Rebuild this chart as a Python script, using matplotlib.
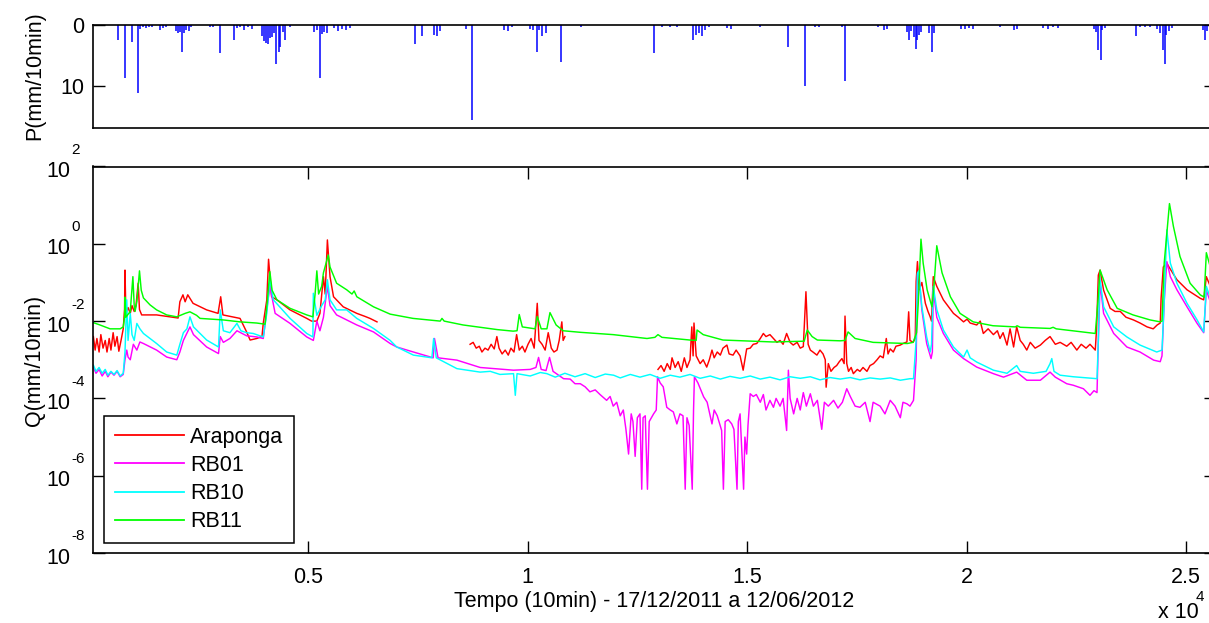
import numpy as np
import matplotlib
matplotlib.use('Agg')
from matplotlib import pyplot as plt
from matplotlib.ticker import NullLocator
from matplotlib.transforms import offset_copy

plt.rcParams['font.family'] = ['Liberation Sans', 'DejaVu Sans']
plt.rcParams['font.size'] = 15.5

# time axis in 10-min steps, discharge kept as log10(Q)
araponga_t = [
    110, 150, 190, 240, 280, 330, 380, 420, 470, 510,
    560, 600, 650, 690, 740, 790, 820, 830, 850, 900,
    950, 990, 1040, 1080, 1130, 1160, 1210, 1550, 1920, 2040,
    2080, 2150, 2200, 2260, 2380, 2690, 2950, 3010, 3060, 3450,
    3600, 3680, 3830, 3950, 3980, 4060, 4100, 4170, 4290, 4590,
    4970, 5080, 5200, 5270, 5350, 5390, 5440, 5500, 5580, 5800,
    6110, 6300, 6410, 6570, np.nan,
    8690, 8760, 8830, 8900, 8960, 9030, 9100, 9170, 9240, 9300,
    9350, 9420, 9490, 9560, 9620, 9690, 9750, 9810, 9880, 9940,
    10010, 10080, 10150, 10220, 10260, 10330, 10400, 10470, 10540, 10600,
    10670, 10720, 10780, 10810, 10850, np.nan,
    12970, 13040, 13110, 13180, 13250, 13290, 13360, 13430, 13500, 13570,
    13630, 13700, 13740, 13770, 13790, 13840, 13930, 14000, 14080, 14140,
    14200, 14250, 14320, 14390, 14450, 14540, 14590, 14680, 14750, 14840,
    14910, 14990, 15070, 15140, 15220, 15300, 15370, 15430, 15520, 15600,
    15680, 15750, 15820, 15900, 15980, 16050, 16140, 16210, 16280, 16340,
    16390, 16440, 16500, 16590, 16660, 16730, 16780, 16800, 16850, 16910,
    16980, 17040, 17100, 17160, 17210, 17230, 17270, 17310, 17370, 17420,
    17510, 17570, 17640, 17730, 17800, 17880, 17960, 18030, 18100, 18170,
    18210, 18260, 18330, 18390, 18490, 18550, 18640, 18680, 18710, 18780,
    18830, 18850, 18880, 18920, 18980, 19060, 19120, 19170, 19200, 19240,
    19320, 19470, 19700, 19810, 19930, 20010, 20080, 20230, 20310, 20380,
    20490, 20610, 20700, 20760, 20830, 20920, 20990, 21070, 21140, 21220,
    21290, 21370, 21450, 21560, 21680, 21790, 21900, 22020, 22130, 22280,
    22380, 22510, 22610, 22720, 22810, 22930, 22960, 23000, 23040, 23120,
    23270, 23380, 23500, 23630, 23800, 23950, 24110, 24250, 24340, 24410,
    24430, 24480, 24560, 24620, 24790, 25020, 25320, 25400, 25460, 25550]
araponga_log = [
    -2.4, -2.75, -2.45, -2.8, -2.35, -2.7, -2.5, -2.8, -2.45, -2.75,
    -2.3, -2.65, -2.4, -2.78, -2.5, -2.2, -1.7, -0.68, -1.8, -1.65,
    -1.8, -1.6, -1.75, -1.6, -1.02, -1.7, -1.84, -1.84, -1.90, -1.92,
    -1.5, -1.32, -1.5, -1.32, -1.54, -1.71, -1.80, -1.37, -1.84, -1.93,
    -2.28, -2.49, -2.45, -2.40, -2.05, -1.45, -0.40, -1.37, -1.45, -1.71,
    -1.93, -2.0, -2.0, -1.8, -0.85, -1.3, 0.10, -0.85, -1.37, -1.63,
    -1.80, -1.88, -1.93, -2.02, np.nan,
    -2.6, -2.55, -2.7, -2.65, -2.8, -2.7, -2.75, -2.6, -2.72, -2.4,
    -2.7, -2.85, -2.75, -2.88, -2.7, -2.8, -2.35, -2.75, -2.65, -2.8,
    -2.6, -2.45, -2.7, -1.54, -2.5, -2.6, -2.75, -2.3, -2.7, -2.8,
    -2.75, -2.5, -2.02, -2.5, -2.4, np.nan,
    -3.25, -3.15, -3.3, -3.1, -3.25, -2.95, -3.2, -3.05, -3.3, -2.95,
    -3.2, -3.0, -2.15, -2.9, -2.05, -2.9, -3.1, -3.0, -3.19, -3.0,
    -2.75, -2.95, -2.8, -2.88, -2.7, -2.62, -2.85, -2.88, -2.75, -2.9,
    -3.27, -2.72, -2.7, -2.6, -2.58, -2.45, -2.32, -2.4, -2.35, -2.45,
    -2.55, -2.5, -2.6, -2.32, -2.55, -2.62, -2.55, -2.7, -2.66, -1.24,
    -2.6, -2.75, -2.8, -2.88, -2.75, -2.85, -3.0, -3.71, -3.1, -3.3,
    -3.2, -3.15, -3.05, -2.97, -3.1, -1.87, -3.1, -3.3, -3.2, -3.36,
    -3.25, -3.3, -3.2, -3.3, -3.15, -3.1, -3.0, -2.9, -2.95, -2.45,
    -2.85, -2.72, -2.8, -2.65, -2.62, -2.58, -2.54, -1.76, -2.5, -2.55,
    -2.45, -0.98, -0.46, -1.19, -1.0, -1.54, -1.75, -1.89, -2.0, -0.85,
    -1.1, -1.45, -1.8, -1.9, -2.02, -1.95, -2.05, -2.1, -2.0, -2.32,
    -2.2, -2.35, -2.25, -2.45, -2.3, -2.62, -2.2, -2.67, -2.15, -2.5,
    -2.6, -2.75, -2.55, -2.7, -2.62, -2.5, -2.4, -2.6, -2.55, -2.65,
    -2.55, -2.75, -2.6, -2.7, -2.6, -2.75, -2.2, -0.81, -0.68, -1.2,
    -1.67, -1.75, -1.75, -1.9, -1.97, -2.05, -2.15, -2.2, -2.1, -2.05,
    -1.4, -0.6, -0.5, -0.62, -0.93, -1.19, -1.41, -1.45, -0.85, -1.1]

rb01_t = [
    110, 170, 240, 310, 380, 440, 510, 580, 650, 720,
    790, 830, 870, 900, 950, 1020, 1100, 1170, 1250, 1550,
    1780, 2010, 2080, 2160, 2310, 2390, 2690, 2960, 3000, 3070,
    3220, 3380, 3600, 3830, 3980, 4060, 4130, 4250, 4590, 4970,
    5120, 5200, 5270, 5350, 5440, 5500, 5650, 6110, 6490, 6870,
    7020, 7400, 7850, 7880, 7960, 8390, 8920, 9680, 10060, 10190,
    10250, 10310, 10420, 10500, 10580, 10820, 10970, 11080, 11200, 11310,
    11420, 11540, 11650, 11800, 11880, 11950, 12030, 12110, 12180, 12240,
    12300, 12360, 12400, 12450, 12500, 12560, 12600, 12630, 12680, 12730,
    12770, 12870, 12930, 12960, 13020, 13090, 13170, 13250, 13320, 13400,
    13470, 13540, 13590, 13630, 13680, 13750, 13780, 13800, 13880, 14010,
    14090, 14200, 14250, 14320, 14420, 14460, 14500, 14570, 14650, 14700,
    14770, 14800, 14840, 14920, 14950, 14990, 15020, 15070, 15140, 15210,
    15300, 15370, 15430, 15520, 15600, 15660, 15750, 15820, 15900, 15940,
    15980, 16060, 16140, 16210, 16280, 16350, 16440, 16510, 16600, 16700,
    16760, 16850, 16970, 17070, 17170, 17270, 17350, 17460, 17570, 17690,
    17800, 17870, 18030, 18140, 18260, 18370, 18490, 18550, 18640, 18710,
    18790, 18850, 18880, 18910, 18980, 19090, 19190, 19220, 19240, 19320,
    19470, 19700, 19930, 20230, 20610, 20840, 21140, 21370, 21680, 21900,
    22020, 22280, 22430, 22660, 22810, 22900, 22970, 23000, 23040, 23120,
    23350, 23650, 23950, 24260, 24410, 24450, 24500, 24560, 24640, 24790,
    25020, 25250, 25400, 25460, 25550]
rb01_log = [
    -3.19, -3.35, -3.25, -3.42, -3.3, -3.44, -3.32, -3.4, -3.3, -3.44,
    -3.38, -3.0, -2.75, -2.93, -3.0, -2.6, -2.75, -2.54, -2.58, -2.75,
    -2.93, -3.00, -2.8, -2.5, -2.15, -2.35, -2.67, -2.84, -2.4, -2.55,
    -2.45, -2.25, -2.38, -2.41, -2.45, -1.7, -1.10, -1.8, -2.06, -2.41,
    -2.5, -2.0, -2.25, -1.9, -1.10, -1.6, -1.84, -2.10, -2.28, -2.58,
    -2.67, -2.80, -2.95, -2.45, -2.95, -3.01, -3.20, -3.27, -3.25, -3.2,
    -2.94, -3.25, -3.28, -2.94, -3.3, -3.49, -3.5, -3.62, -3.62, -3.7,
    -3.83, -3.78, -3.9, -4.05, -3.95, -4.2, -4.1, -4.45, -4.3, -4.8,
    -5.44, -4.4, -4.6, -5.5, -4.5, -4.40, -6.35, -4.5, -4.45, -6.35,
    -4.6, -4.40, -4.3, -3.44, -3.6, -3.7, -4.23, -4.3, -4.35, -4.66,
    -4.4, -4.45, -6.35, -4.5, -4.7, -6.35, -4.3, -3.44, -3.6, -3.96,
    -4.1, -4.66, -4.3, -4.45, -4.83, -6.35, -4.6, -4.55, -4.66, -4.8,
    -6.35, -4.6, -4.4, -6.35, -5.0, -5.44, -4.7, -3.88, -3.95, -3.9,
    -4.1, -3.9, -4.3, -4.05, -4.23, -4.0, -4.2, -4.0, -4.83, -3.27,
    -4.0, -4.4, -4.0, -4.3, -3.85, -4.2, -3.88, -4.2, -4.05, -4.8,
    -4.1, -4.2, -4.05, -4.25, -4.1, -3.75, -3.95, -4.2, -4.23, -4.1,
    -4.6, -4.1, -4.2, -4.4, -4.05, -4.2, -4.5, -4.1, -4.14, -4.2,
    -4.05, -3.0, -0.8, -0.75, -1.71, -2.58, -2.97, -2.8, -1.2, -1.9,
    -2.32, -2.75, -2.97, -3.19, -3.36, -3.45, -3.32, -3.53, -3.53, -3.32,
    -3.45, -3.62, -3.66, -3.75, -3.92, -3.8, -3.85, -2.5, -1.0, -1.80,
    -2.32, -2.67, -2.80, -3.01, -3.05, -2.9, -1.5, -0.46, -0.85, -1.19,
    -1.63, -2.06, -2.3, -1.2, -1.5]

rb10_t = [
    110, 170, 240, 310, 380, 440, 510, 580, 650, 720,
    790, 830, 870, 900, 950, 990, 1040, 1100, 1170, 1250,
    1550, 1780, 2010, 2080, 2160, 2240, 2310, 2390, 2690, 2960,
    3000, 3070, 3220, 3380, 3470, 3600, 3750, 3980, 4060, 4130,
    4210, 4590, 4970, 5110, 5120, 5200, 5310, 5390, 5440, 5500,
    5650, 5880, 6110, 6490, 6870, 7020, 7400, 7820, 7860, 7920,
    8390, 8690, 8920, 9150, 9370, 9680, 9720, 9760, 10060, 10290,
    10440, 10630, 10850, 11080, 11310, 11540, 11770, 11960, 12110, 12340,
    12560, 12790, 13020, 13250, 13470, 13700, 13930, 14160, 14390, 14610,
    14840, 15070, 15300, 15520, 15750, 15980, 16210, 16440, 16660, 16890,
    17120, 17350, 17570, 17800, 18030, 18260, 18490, 18710, 18790, 18850,
    18880, 18910, 18980, 19090, 19170, 19200, 19240, 19320, 19470, 19700,
    19930, 20010, 20080, 20230, 20610, 20920, 21140, 21220, 21520, 21810,
    21900, 21940, 21990, 22130, 22430, 22970, 23000, 23030, 23120, 23350,
    23650, 23950, 24330, 24450, 24500, 24560, 24640, 24790, 25020, 25250,
    25400, 25460, 25550]
rb10_log = [
    -3.14, -3.3, -3.2, -3.35, -3.25, -3.4, -3.3, -3.38, -3.28, -3.42,
    -3.35, -2.8, -1.45, -2.5, -1.8, -2.35, -2.5, -2.06, -2.2, -2.32,
    -2.58, -2.80, -2.88, -2.6, -2.3, -2.2, -1.89, -2.15, -2.49, -2.67,
    -1.71, -2.25, -2.3, -2.06, -2.25, -2.3, -2.32, -2.41, -1.8, -0.93,
    -1.45, -1.93, -2.32, -2.41, -1.28, -1.85, -1.6, -1.45, -0.93, -1.45,
    -1.71, -1.71, -1.93, -2.19, -2.5, -2.67, -2.88, -2.95, -2.45, -2.95,
    -3.23, -3.28, -3.32, -3.3, -3.38, -3.36, -3.92, -3.36, -3.42, -3.33,
    -3.36, -3.45, -3.35, -3.44, -3.36, -3.46, -3.37, -3.40, -3.47, -3.38,
    -3.45, -3.38, -3.48, -3.4, -3.45, -3.38, -3.48, -3.42, -3.5, -3.43,
    -3.48, -3.42, -3.5, -3.45, -3.52, -3.44, -3.48, -3.44, -3.52, -3.46,
    -3.5, -3.46, -3.52, -3.47, -3.5, -3.47, -3.53, -3.49, -3.49, -2.5,
    -0.76, -0.7, -1.63, -2.41, -2.80, -2.6, -1.10, -1.7, -2.23, -2.67,
    -2.93, -2.75, -2.95, -3.06, -3.27, -3.35, -3.15, -3.3, -3.35, -3.3,
    -3.1, -2.97, -3.3, -3.4, -3.44, -3.49, -2.5, -0.85, -1.63, -2.15,
    -2.41, -2.62, -2.80, -2.75, -1.5, 0.36, -0.5, -1.02, -1.54, -1.97,
    -2.28, -1.1, -1.4]

rb11_t = [
    110, 260, 490, 720, 790, 820, 830, 850, 950, 1010,
    1040, 1060, 1100, 1160, 1200, 1250, 1400, 1550, 1780, 2010,
    2200, 2310, 2460, 2540, 3070, 3450, 3830, 4020, 4070, 4130,
    4180, 4290, 4590, 4970, 5110, 5160, 5200, 5240, 5310, 5350,
    5410, 5460, 5500, 5650, 5880, 6000, 6050, 6110, 6490, 6870,
    7390, 8010, 8050, 8100, 8530, 9310, 9670, 9760, 9810, 9880,
    10170, 10220, 10310, 10440, 10510, 10650, 10810, 11200, 11950, 12720,
    12900, 12970, 13060, 13700, 13840, 13860, 14000, 14450, 15590, 16300,
    16370, 16480, 16600, 17120, 17230, 17300, 17460, 17870, 18650, 18780,
    18860, 18900, 18960, 19010, 19100, 19210, 19250, 19320, 19440, 19630,
    19850, 20150, 20600, 21110, 21150, 21220, 21900, 21970, 22040, 22930,
    22990, 23040, 23200, 23430, 23790, 24180, 24410, 24450, 24500, 24620,
    24710, 24860, 25090, 25320, 25410, 25460, 25550]
rb11_log = [
    -2.04, -2.10, -2.20, -2.20, -2.15, -1.9, -1.38, -1.9, -1.75, -0.85,
    -1.6, -1.75, -1.5, -0.70, -1.2, -1.40, -1.58, -1.71, -1.84, -1.89,
    -1.80, -1.76, -1.85, -1.93, -1.97, -2.02, -2.05, -2.08, -1.5, -0.72,
    -1.2, -1.45, -1.67, -1.84, -1.89, -1.3, -0.70, -1.3, -1.1, -0.75,
    -0.5, -0.29, -0.6, -1.02, -1.19, -1.3, -1.22, -1.37, -1.63, -1.82,
    -1.93, -2.0, -1.93, -2.0, -2.10, -2.22, -2.26, -2.25, -1.83, -2.15,
    -2.2, -1.88, -2.2, -2.2, -1.78, -2.1, -2.25, -2.29, -2.35, -2.45,
    -2.42, -2.35, -2.42, -2.49, -2.50, -2.23, -2.35, -2.49, -2.54, -2.52,
    -2.23, -2.4, -2.49, -2.51, -2.50, -2.28, -2.45, -2.55, -2.58, -2.55,
    -2.3, -1.5, 0.12, -0.50, -1.19, -1.63, -1.2, -0.05, -0.75, -1.37,
    -1.80, -2.02, -2.12, -2.15, -2.12, -2.16, -2.19, -2.16, -2.2, -2.32,
    -1.5, -0.68, -1.19, -1.67, -1.84, -1.97, -2.02, -2.0, -0.5, 1.04,
    0.45, -0.33, -1.02, -1.32, -1.38, -0.23, -0.6]

precip_t = [
    660, 840, 990, 1120, 1170, 1240, 1310, 1380, 1450, 1630,
    1700, 1770, 1990, 2040, 2080, 2130, 2180, 2220, 2290, 2340,
    2770, 2840, 3000, 3310, 3380, 3450, 3540, 3630, 3720, 3950,
    4000, 4040, 4090, 4130, 4180, 4230, 4280, 4330, 4370, 4430,
    4480, 4590, 5140, 5210, 5270, 5320, 5360, 5430, 5590, 5680,
    5770, 5870, 5960, 7430, 7590, 7870, 7940, 8010, 8600, 8740,
    9470, 9560, 9650, 10060, 10130, 10220, 10260, 10330, 10420, 10760,
    11210, 12890, 13060, 13250, 13410, 13770, 13840, 13910, 13970, 14040,
    14130, 14550, 14640, 15300, 15940, 16320, 16550, 16640, 17170, 17230,
    17980, 18120, 18190, 18650, 18690, 18740, 18800, 18840, 18870, 18920,
    18960, 19150, 19220, 19260, 19880, 19970, 20060, 20150, 20760, 21080,
    21150, 21740, 21860, 21970, 22090, 22910, 22950, 23000, 23050, 23090,
    23160, 23860, 23950, 24070, 24180, 24340, 24410, 24480, 24510, 24550,
    24610, 24680, 25390, 25430, 25480]
precip_mm = [
    2.4, 8.7, 2.8, 11.3, 0.6, 0.4, 0.5, 0.4, 0.3, 0.8,
    0.5, 0.3, 1.0, 1.4, 1.2, 4.4, 1.3, 0.9, 1.0, 0.4,
    0.3, 0.4, 4.7, 2.5, 0.5, 0.3, 0.8, 0.4, 0.6, 1.8,
    2.6, 2.9, 3.1, 2.2, 2.0, 1.4, 6.4, 4.4, 3.6, 1.2,
    2.4, 0.4, 1.2, 0.8, 8.7, 1.5, 1.2, 1.4, 0.5, 1.0,
    0.6, 0.9, 0.5, 3.1, 1.8, 1.7, 1.8, 1.0, 0.6, 15.6,
    0.8, 1.0, 0.3, 0.6, 0.9, 4.4, 0.8, 1.8, 1.3, 6.1,
    0.4, 4.7, 0.3, 0.4, 0.3, 2.4, 1.7, 1.3, 1.8, 0.8,
    0.4, 0.5, 0.7, 0.4, 3.6, 10.0, 0.4, 0.4, 0.3, 9.3,
    0.3, 0.9, 0.6, 1.2, 2.4, 1.0, 2.0, 3.9, 2.5, 1.7,
    1.2, 1.4, 4.4, 1.3, 0.6, 0.7, 0.5, 0.6, 0.3, 0.9,
    0.6, 0.5, 0.6, 0.4, 0.5, 0.7, 1.2, 4.2, 5.8, 0.9,
    0.5, 1.8, 0.4, 0.4, 0.3, 0.7, 1.4, 4.2, 6.4, 1.6,
    1.0, 0.5, 0.8, 2.4, 1.0]

series = [('Araponga', araponga_t, araponga_log, '#ff0000'),
          ('RB01', rb01_t, rb01_log, '#ff00ff'),
          ('RB10', rb10_t, rb10_log, '#00ffff'),
          ('RB11', rb11_t, rb11_log, '#00ff00')]

x_ticks = [5000, 10000, 15000, 20000, 25000]
x_ticklabels = ['0.5', '1', '1.5', '2', '2.5']
q_exponents = [2, 0, -2, -4, -6, -8]

W, H = 1209, 623
fig = plt.figure(figsize=(W / 100, H / 100), dpi=100)
ax_p = fig.add_axes([92.5 / W, 1 - 128 / H, 1123.5 / W, 103 / H])
ax_q = fig.add_axes([92.5 / W, 1 - 553 / H, 1123.5 / W, 386.5 / H])

for ax in (ax_p, ax_q):
    for sp in ax.spines.values():
        sp.set_linewidth(1.2)
    ax.set_xlim(90, 25680)

# precipitation as stems hanging from zero
ax_p.vlines(precip_t, 0, precip_mm, colors='#0000ff', lw=1.1)
ax_p.set_ylim(17, 0)
ax_p.set_yticks([0, 10])
ax_p.set_xticks([])
ax_p.tick_params(axis='y', direction='in', length=8.6, width=1,
                 right=True, pad=6)

for name, t, lq, col in series:
    ax_q.plot(t, 10.0 ** np.array(lq), color=col, lw=1.05, label=name)

ax_q.set_yscale('log')
ax_q.set_ylim(1e-8, 1e2)
ax_q.set_yticks([10.0 ** e for e in q_exponents])
ax_q.yaxis.set_minor_locator(NullLocator())
ax_q.set_yticklabels([])
ax_q.set_xticks(x_ticks)
ax_q.set_xticklabels(x_ticklabels)
ax_q.tick_params(direction='in', length=8.6, width=1, top=True, right=True)
ax_q.tick_params(axis='x', pad=10)

# matlab-style "10" with raised exponent
ytr = ax_q.get_yaxis_transform()
for e in q_exponents:
    ax_q.text(0, 10.0 ** e, '10', ha='right', va='baseline',
              transform=offset_copy(ytr, fig, x=-22.5, y=-10.5, units='dots'))
    ax_q.text(0, 10.0 ** e, str(e), ha='left', va='baseline', fontsize=11,
              transform=offset_copy(ytr, fig, x=-21.5, y=12.5, units='dots'))

leg = ax_q.legend(loc='lower left',
                  bbox_to_anchor=((104 - 92.5) / 1123.5, (553 - 543) / 386.5),
                  borderaxespad=0, fancybox=False, edgecolor='k',
                  handlelength=3.2, handletextpad=0.3, labelspacing=0.33,
                  borderpad=0.5, framealpha=1)
leg.get_frame().set_linewidth(1.1)
for line in leg.get_lines():
    line.set_linewidth(1.3)

fig.text(35 / W, 1 - 76 / H, 'P(mm/10min)', rotation=90, ha='center', va='center')
fig.text(35 / W, 1 - 360 / H, 'Q(mm/10min)', rotation=90, ha='center', va='center')
fig.text(654 / W, 1 - 601 / H, 'Tempo (10min) - 17/12/2011 a 12/06/2012',
         ha='center', va='center')
# axis multiplier, kept inside the canvas
fig.text(1158 / W, 1 - 613 / H, 'x 10', ha='left', va='center')
fig.text(1196 / W, 1 - 597 / H, '4', ha='left', va='center', fontsize=11)

fig.savefig('out.png', dpi=100)
